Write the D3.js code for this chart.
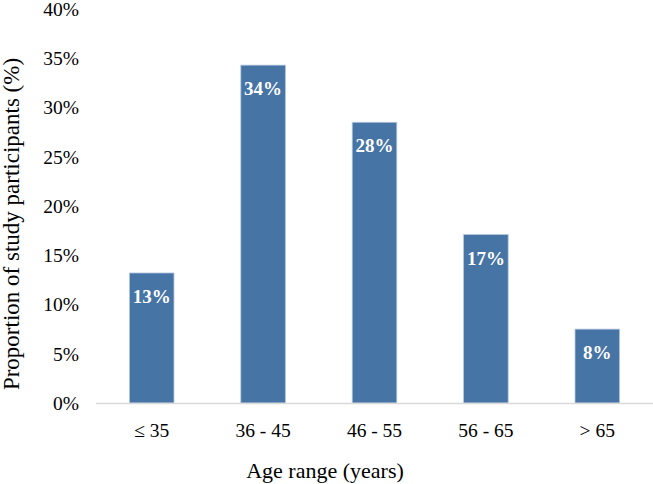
<!DOCTYPE html>
<html>
<head>
<meta charset="utf-8">
<script src="https://cdn.jsdelivr.net/npm/d3@7"></script>
<style>
  body { margin: 0; background: #fff; }
  svg text { font-family: "Liberation Serif", "Times New Roman", serif; fill: #000; }
</style>
</head>
<body>
<div class="chart"></div>
<script>
'use strict';

var ageRanges = ['\u2264 35', '36 - 45', '46 - 55', '56 - 65', '> 65'],
    shares = [13.2, 34.3, 28.5, 17.1, 7.5],
    shareLabels = ['13%', '34%', '28%', '17%', '8%'],
    yTicks = [0, 5, 10, 15, 20, 25, 30, 35, 40];

var width = 653,
    height = 484,
    margin = { top: 9, right: 0, bottom: 81, left: 96 },
    plotW = width - margin.left - margin.right,
    plotH = height - margin.top - margin.bottom,
    serif = '"Liberation Serif", "Times New Roman", serif';

var svg = d3.select('.chart').append('svg')
  .attr('width', width)
  .attr('height', height);

var x = d3.scaleBand().domain(ageRanges).range([0, plotW]).paddingInner(0.6).paddingOuter(0.3),
    y = d3.scaleLinear().domain([0, 40]).range([plotH, 0]);

var g = svg.append('g').attr('transform', 'translate(' + margin.left + ',' + margin.top + ')');

// y tick labels only
var yAxis = g.append('g').call(d3.axisLeft(y).tickValues(yTicks).tickSize(0).tickPadding(17).tickFormat(function (d) {
  return d + '%';
}));
yAxis.attr('font-family', serif).attr('font-size', 19.5);
yAxis.select('.domain').remove();
yAxis.selectAll('text').attr('fill', '#000');

// bars
g.selectAll('rect.bar').data(shares).enter().append('rect')
  .attr('class', 'bar')
  .attr('x', function (d, i) { return x(ageRanges[i]); })
  .attr('y', function (d) { return y(d); })
  .attr('width', x.bandwidth())
  .attr('height', function (d) { return plotH - y(d); })
  .attr('fill', '#4674a5')
  .attr('stroke', '#b3c6e0')
  .attr('stroke-width', 0.8);

// value labels inside bars
g.selectAll('text.val').data(shares).enter().append('text')
  .attr('class', 'val')
  .attr('x', function (d, i) { return x(ageRanges[i]) + x.bandwidth() / 2; })
  .attr('y', function (d) { return y(d) + 30; })
  .attr('text-anchor', 'middle')
  .style('font-size', '19px')
  .style('font-weight', 'bold')
  .style('fill', '#fff')
  .text(function (d, i) { return shareLabels[i]; });

// x axis baseline
g.append('line')
  .attr('x1', 0).attr('x2', plotW)
  .attr('y1', plotH + 0.5).attr('y2', plotH + 0.5)
  .attr('stroke', '#d9d9d9')
  .attr('stroke-width', 1.3);

// x tick labels
var xAxis = g.append('g').attr('transform', 'translate(0,' + plotH + ')')
  .call(d3.axisBottom(x).tickSize(0).tickPadding(20));
xAxis.attr('font-family', serif).attr('font-size', 19.5);
xAxis.select('.domain').remove();
xAxis.selectAll('text').attr('fill', '#000');

// axis titles
svg.append('text')
  .attr('x', 325)
  .attr('y', 478)
  .attr('text-anchor', 'middle')
  .style('font-size', '22px')
  .text('Age range (years)');

svg.append('text')
  .attr('transform', 'translate(19,' + 224 + ') rotate(-90)')
  .attr('text-anchor', 'middle')
  .style('font-size', '23px')
  .text('Proportion of study participants (%)');
</script>
</body>
</html>
